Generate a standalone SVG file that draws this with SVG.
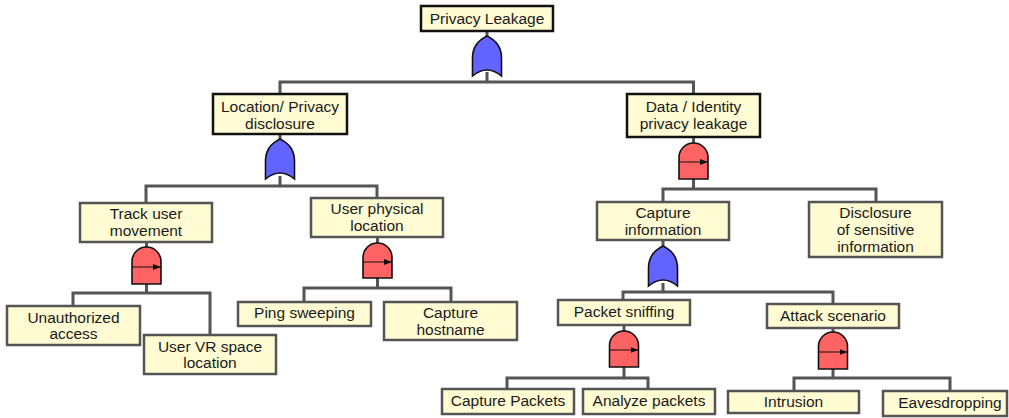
<svg xmlns="http://www.w3.org/2000/svg" width="1009" height="418" viewBox="0 0 1009 418">
<style>
.box{fill:#fffbd3;stroke:#555;stroke-width:2.5}
.top{fill:#fffbd3;stroke:#111;stroke-width:2.5}
.t{font-family:"Liberation Sans",Arial,sans-serif;font-size:15.5px;fill:#1a1a1a;text-anchor:middle;dominant-baseline:central}
.c{fill:none;stroke:#555;stroke-width:3}
.or{fill:#6363ff;stroke:#111;stroke-width:1.6}
.and{fill:#ff6363;stroke:#111;stroke-width:1.6}
.ar{stroke:#111;stroke-width:1;fill:none}
</style>
<defs>
<marker id="ah" viewBox="0 0 8 6" refX="8" refY="3" markerWidth="8" markerHeight="6" markerUnits="userSpaceOnUse" orient="auto"><path d="M0,0 L8,3 L0,6 Z" fill="#111"/></marker>
</defs>
<g id="connectors">
<path class="c" d="M487,31 V37 M487,72 V82 M280,94 V82 H693.5 V94"/>
<path class="c" d="M280,134 V140 M280,176 V186 M146,203 V186 H377 V198"/>
<path class="c" d="M693.5,137 V143 M693.5,179 V189 M663,202 V189 H876 V202"/>
<path class="c" d="M146.5,242 V247 M146.5,284 V293 M73,306 V293 H210 V335"/>
<path class="c" d="M377.5,237 V243 M377.5,278 V288 M304,302 V288 H451 V302"/>
<path class="c" d="M663,240 V247 M663,283 V292 M623,300 V292 H833 V304"/>
<path class="c" d="M624,325 V331 M624,367 V378 M507,389 V378 H648 V389"/>
<path class="c" d="M833,328 V332 M833,369 V378 M794,391 V378 H950 V391"/>
</g>
<g id="gate-or-1"><path class="or" d="M472.5,76 L472.5,58 Q472.5,43 487,36 Q501.5,43 501.5,58 L501.5,76 Q487,64 472.5,76 Z"/></g>
<g id="gate-or-2"><path class="or" d="M265.5,179 L265.5,161 Q265.5,146 280,139 Q294.5,146 294.5,161 L294.5,179 Q280,167 265.5,179 Z"/></g>
<g id="gate-or-3"><path class="or" d="M648.5,286 L648.5,268 Q648.5,253 663,246 Q677.5,253 677.5,268 L677.5,286 Q663,274 648.5,286 Z"/></g>
<g id="gate-and-1"><path class="and" d="M679,179 V157.5 A14.5,14.5 0 0 1 708,157.5 V179 Z"/><line class="ar" x1="679" y1="162" x2="708" y2="162" marker-end="url(#ah)"/></g>
<g id="gate-and-2"><path class="and" d="M132,284 V261.5 A14.5,14.5 0 0 1 161,261.5 V284 Z"/><line class="ar" x1="132" y1="267" x2="161" y2="267" marker-end="url(#ah)"/></g>
<g id="gate-and-3"><path class="and" d="M363,278 V257.5 A14.5,14.5 0 0 1 392,257.5 V278 Z"/><line class="ar" x1="363" y1="262" x2="392" y2="262" marker-end="url(#ah)"/></g>
<g id="gate-and-4"><path class="and" d="M609.5,367 V345.5 A14.5,14.5 0 0 1 638.5,345.5 V367 Z"/><line class="ar" x1="609.5" y1="350" x2="638.5" y2="350" marker-end="url(#ah)"/></g>
<g id="gate-and-5"><path class="and" d="M818.5,369 V346.5 A14.5,14.5 0 0 1 847.5,346.5 V369 Z"/><line class="ar" x1="818.5" y1="352" x2="847.5" y2="352" marker-end="url(#ah)"/></g>
<g id="privacy-leakage"><rect class="top" x="421" y="6" width="132" height="25"/><text class="t" x="487" y="18">Privacy Leakage</text></g>
<g id="location-privacy"><rect class="top" x="213" y="94" width="134" height="40"/><text class="t" x="280" y="106">Location/ Privacy</text><text class="t" x="280" y="123">disclosure</text></g>
<g id="data-identity"><rect class="top" x="627" y="94" width="133" height="43"/><text class="t" x="693.5" y="106">Data / Identity</text><text class="t" x="693.5" y="123">privacy leakage</text></g>
<g id="track-user"><rect class="box" x="80" y="203" width="132" height="39"/><text class="t" x="146" y="213">Track user</text><text class="t" x="146" y="230.5">movement</text></g>
<g id="user-physical"><rect class="box" x="311" y="198" width="132" height="39"/><text class="t" x="377" y="208.5">User physical</text><text class="t" x="377" y="225.5">location</text></g>
<g id="unauthorized"><rect class="box" x="7" y="306" width="133" height="39"/><text class="t" x="73.5" y="317">Unauthorized</text><text class="t" x="73.5" y="333.5">access</text></g>
<g id="user-vr"><rect class="box" x="144" y="335" width="132" height="39"/><text class="t" x="210" y="346">User VR space</text><text class="t" x="210" y="362.5">location</text></g>
<g id="ping"><rect class="box" x="238" y="302" width="133" height="24"/><text class="t" x="304.5" y="312.5">Ping sweeping</text></g>
<g id="hostname"><rect class="box" x="384" y="302" width="133" height="38"/><text class="t" x="450.5" y="312.5">Capture</text><text class="t" x="450.5" y="329.5">hostname</text></g>
<g id="capture-info"><rect class="box" x="597" y="202" width="132" height="38"/><text class="t" x="663" y="212.5">Capture</text><text class="t" x="663" y="229.5">information</text></g>
<g id="disclosure"><rect class="box" x="809" y="202" width="133" height="55"/><text class="t" x="875.5" y="212.5">Disclosure</text><text class="t" x="875.5" y="229.5">of sensitive</text><text class="t" x="875.5" y="246.5">information</text></g>
<g id="packet-sniffing"><rect class="box" x="558" y="300" width="132" height="25"/><text class="t" x="624" y="311">Packet sniffing</text></g>
<g id="attack"><rect class="box" x="767" y="304" width="132" height="24"/><text class="t" x="833" y="315">Attack scenario</text></g>
<g id="capture-packets"><rect class="box" x="442" y="389" width="132" height="25"/><text class="t" x="508" y="400.5">Capture Packets</text></g>
<g id="analyze-packets"><rect class="box" x="583" y="389" width="132" height="25"/><text class="t" x="649" y="400.5">Analyze packets</text></g>
<g id="intrusion"><rect class="box" x="728" y="391" width="131" height="22"/><text class="t" x="793.5" y="401.5">Intrusion</text></g>
<g id="eavesdropping"><rect class="box" x="883" y="391" width="124" height="25"/><text class="t" x="950" y="402">Eavesdropping</text></g>
</svg>
